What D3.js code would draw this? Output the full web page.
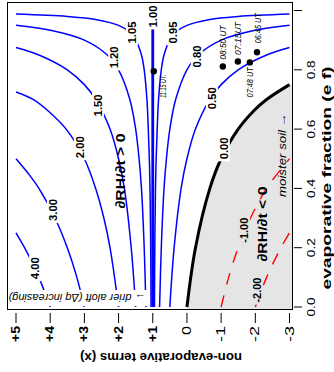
<!DOCTYPE html>
<html><head><meta charset="utf-8">
<script src="https://cdn.jsdelivr.net/npm/d3@7"></script>
<style>
body{margin:0;background:#fff;}
svg{display:block;font-family:"Liberation Sans",Arial,Helvetica,sans-serif;}
</style>
</head><body>
<svg id="chart" width="334" height="372"></svg>
<script>
// ---------------- data ----------------
const xTickValues = [5, 4, 3, 2, 1, 0, -1, -2, -3];
const xTickLabels = ["+5", "+4", "+3", "+2", "+1", "0", "-1", "-2", "-3"];
const efTickValues = [0, 0.2, 0.4, 0.6, 0.8, 1.0];
const efTickLabels = ["0.0", "0.2", "0.4", "0.6", "0.8", ""];

// contour lines, points as [non-evaporative term x, evaporative fraction]
const contour_4_00 = [[4.00,0],[4.16,0.05],[4.33,0.10],[4.53,0.15],[4.75,0.20],[5.00,0.25]];
const contour_3_00 = [[3.00,0],[3.22,0.10],[3.50,0.20],[3.86,0.30],[4.33,0.40],[4.64,0.45],[5.00,0.50]];
const contour_2_00 = [[2.00,0],[2.25,0.20],[2.43,0.30],[2.67,0.40],[3.00,0.50],[3.50,0.595],[4.00,0.655],[4.50,0.70],[5.00,0.725]];
const contour_1_50 = [[1.50,0],[1.63,0.20],[1.83,0.40],[2.00,0.50],[2.25,0.60],[2.67,0.70],[3.00,0.75],[3.50,0.80],[4.33,0.85],[5.00,0.875]];
const contour_1_20 = [[1.20,0],[1.25,0.20],[1.33,0.40],[1.40,0.50],[1.50,0.60],[1.67,0.70],[2.00,0.80],[2.33,0.85],[3.00,0.90],[3.86,0.93],[5.00,0.95]];
const contour_1_05 = [[1.05,0],[1.06,0.20],[1.08,0.40],[1.10,0.50],[1.13,0.60],[1.17,0.70],[1.25,0.80],[1.33,0.85],[1.50,0.90],[1.71,0.93],[2.00,0.95],[2.67,0.97],[3.50,0.98],[5.00,0.988]];
const contour_1_00 = [[1.00,0],[1.00,1.0]];
const contour_0_95 = [[0.95,0],[0.94,0.20],[0.92,0.40],[0.90,0.50],[0.87,0.60],[0.83,0.70],[0.75,0.80],[0.67,0.85],[0.50,0.90],[0.29,0.93],[0.00,0.95],[-0.67,0.97],[-1.50,0.98],[-3.00,0.988]];
const contour_0_80 = [[0.80,0],[0.75,0.20],[0.67,0.40],[0.60,0.50],[0.50,0.60],[0.33,0.70],[0.00,0.80],[-0.33,0.85],[-1.00,0.90],[-1.86,0.93],[-3.00,0.95]];
const contour_0_50 = [[0.50,0],[0.375,0.20],[0.17,0.40],[0.00,0.50],[-0.25,0.60],[-0.67,0.70],[-1.00,0.75],[-1.50,0.80],[-2.33,0.85],[-3.00,0.875]];
const contour_0_00 = [[0.00,0],[-0.25,0.20],[-0.67,0.40],[-1.00,0.50],[-1.50,0.60],[-2.00,0.667],[-2.33,0.70],[-3.00,0.75]];
const contour_m1_00 = [[-1.00,0],[-1.22,0.10],[-1.50,0.20],[-1.86,0.30],[-2.33,0.40],[-3.00,0.50]];
const contour_m2_00 = [[-2.00,0],[-2.33,0.10],[-2.75,0.20],[-3.00,0.25]];

const contourLevels = [4.00, 3.00, 2.00, 1.50, 1.20, 1.05, 1.00, 0.95, 0.80, 0.50, 0.00, -1.00, -2.00];
const contourLabelText = ["4.00","3.00","2.00","1.50","1.20","1.05","1.00","0.95","0.80","0.50","0.00","-1.00","-2.00"];
const contourLines = [contour_4_00, contour_3_00, contour_2_00, contour_1_50, contour_1_20, contour_1_05,
  contour_1_00, contour_0_95, contour_0_80, contour_0_50, contour_0_00, contour_m1_00, contour_m2_00];
// where each contour label sits, [x, ef]
const contourLabelAt = [[4.44,0.131],[3.92,0.327],[3.13,0.539],[2.60,0.680],[2.13,0.842],[1.61,0.926],
  [1.00,0.98],[0.41,0.926],[-0.29,0.845],[-0.73,0.704],[-1.08,0.535],[-1.67,0.259],[-2.05,0.057]];

// observation times
const obsTimes = ["11:15 UT.", "08:50 UT", "07:15UT", "06:45 UT", "07:48 UT"];
const obsX = [0.97, -1.05, -1.49, -2.05, -1.84];
const obsEF = [0.795, 0.811, 0.828, 0.859, 0.825];

const textPositive = "\u2202RH/\u2202t > 0";
const textNegative = "\u2202RH/\u2202t < 0";
const textMoister = "moister soil \u2192";
const textDrier = "\u2192 drier aloft (\u0394q increasing)";
const xTitle = "non-evaporative terms (x)";
const efTitle = "evaporative fraction (e  f)";

// ---------------- layout ----------------
const box = {left: 7, top: 2, right: 293, bottom: 310};
const obsLabelOffset = [[9.5,15],[0.5,-24],[0.5,-23],[0.5,-24],[0.5,20]];
const obsLabelLen = [23, 34, 33, 30, 30];

const svg = d3.select("#chart");
const x = d3.scaleLinear().domain([5, -3]).range([16, 289.5]);
const y = d3.scaleLinear().domain([0, 1]).range([307, 10.5]);

svg.append("defs").append("clipPath").attr("id", "clip")
  .append("rect").attr("x", box.left).attr("y", box.top)
  .attr("width", box.right - box.left).attr("height", box.bottom - box.top);

const plot = svg.append("g").attr("clip-path", "url(#clip)");

const line = d3.line().x(d => x(d[0])).y(d => y(d[1])).curve(d3.curveCatmullRom.alpha(0.5));

// gray region (RH decreasing): right of the zero contour
const zeroPath = line(contour_0_00);
plot.append("path")
  .attr("d", zeroPath + `L${box.right + 2},${y(0.75)}L${box.right + 2},${box.bottom + 2}L${x(0)},${box.bottom + 2}Z`)
  .attr("fill", "#e5e5e5").attr("stroke", "none");

function styleFor(level) {
  if (level === 1) return {stroke: "#0000ff", width: 2.8, dash: null};
  if (level === 0) return {stroke: "#000000", width: 3, dash: null};
  if (level < 0) return {stroke: "#ff0000", width: 1.4, dash: "12,11"};
  return {stroke: "#0000ff", width: 1.5, dash: null};
}

contourLines.forEach((pts, i) => {
  const s = styleFor(contourLevels[i]);
  plot.append("path").attr("d", line(pts)).attr("fill", "none")
    .attr("stroke", s.stroke).attr("stroke-width", s.width)
    .attr("stroke-dasharray", s.dash);
});

// contour labels
contourLabelText.forEach((t, i) => {
  const [lx, le] = contourLabelAt[i];
  const L = t.length > 4 ? 25 : 22;
  const bg = contourLevels[i] < 0 ? "#e5e5e5" : "#ffffff";
  const g = plot.append("g").attr("transform", `translate(${x(lx)},${y(le)}) rotate(-90)`);
  g.append("rect").attr("x", -L/2 - 2).attr("y", -6).attr("width", L + 4).attr("height", 12).attr("fill", bg);
  g.append("text").attr("text-anchor", "middle").attr("dominant-baseline", "central")
    .style("font-size", "10.5px").style("font-weight", "bold")
    .attr("textLength", L).attr("lengthAdjust", "spacingAndGlyphs").text(t);
});

// observation dots
obsTimes.forEach((t, i) => {
  const px = x(obsX[i]), py = y(obsEF[i]);
  plot.append("circle").attr("cx", px).attr("cy", py).attr("r", 3.2).attr("fill", "#000");
  plot.append("text").attr("transform", `translate(${px + obsLabelOffset[i][0]},${py + obsLabelOffset[i][1]}) rotate(-90)`)
    .attr("text-anchor", "middle").attr("dominant-baseline", "central")
    .style("font-size", "8.5px").style("font-style", "italic")
    .attr("textLength", obsLabelLen[i]).attr("lengthAdjust", "spacingAndGlyphs").text(t);
});

function vtext(parent, px, py, str, o) {
  const t = parent.append("text").attr("transform", `translate(${px},${py}) rotate(${o.rot === undefined ? -90 : o.rot})`)
    .attr("text-anchor", o.anchor || "middle").attr("dominant-baseline", "central")
    .style("font-size", o.size + "px").style("font-weight", o.weight || "normal")
    .style("font-style", o.style || "normal").attr("fill", "#000").text(str);
  if (o.len) t.attr("textLength", o.len).attr("lengthAdjust", "spacingAndGlyphs");
  return t;
}

// annotations
vtext(plot, 120, 171, textPositive, {size: 13.5, weight: "bold", len: 75});
vtext(plot, 262, 224, textNegative, {size: 13.5, weight: "bold", len: 75});
vtext(plot, 282, 155, textMoister, {size: 11, style: "italic", len: 84});
plot.append("rect").attr("x", box.left).attr("y", 290).attr("width", 141).attr("height", 16).attr("fill", "#fff");
vtext(plot, 77, 298, textDrier, {size: 11, style: "italic", rot: 180, len: 137});

// box
svg.append("rect").attr("x", box.left + 0.5).attr("y", box.top + 0.5)
  .attr("width", box.right - box.left - 1).attr("height", box.bottom - box.top - 1)
  .attr("fill", "none").attr("stroke", "#000").attr("stroke-width", 1);

// x axis (bottom)
const gx = svg.append("g");
xTickValues.forEach((v, i) => {
  gx.append("line").attr("x1", x(v)).attr("x2", x(v)).attr("y1", box.bottom + 3).attr("y2", box.bottom + 13)
    .attr("stroke", "#000").attr("stroke-width", 1);
  const lab = xTickLabels[i];
  vtext(gx, x(v), 326, lab, {size: 12, weight: v > 0 ? "bold" : "normal", anchor: "end",
    len: lab.length === 1 ? 9 : 16});
});
vtext(gx, 161, 357, xTitle, {size: 13, weight: "bold", rot: 180, len: 162});

// ef axis (right)
const gy = svg.append("g");
efTickValues.forEach((v, i) => {
  gy.append("line").attr("x1", box.right + 1).attr("x2", box.right + 9).attr("y1", y(v)).attr("y2", y(v))
    .attr("stroke", "#000").attr("stroke-width", 1);
  if (efTickLabels[i]) vtext(gy, 311, y(v), efTickLabels[i], {size: 11, len: 19});
});
vtext(gy, 326, 178, efTitle, {size: 13, weight: "bold", len: 223});
</script>
</body></html>
